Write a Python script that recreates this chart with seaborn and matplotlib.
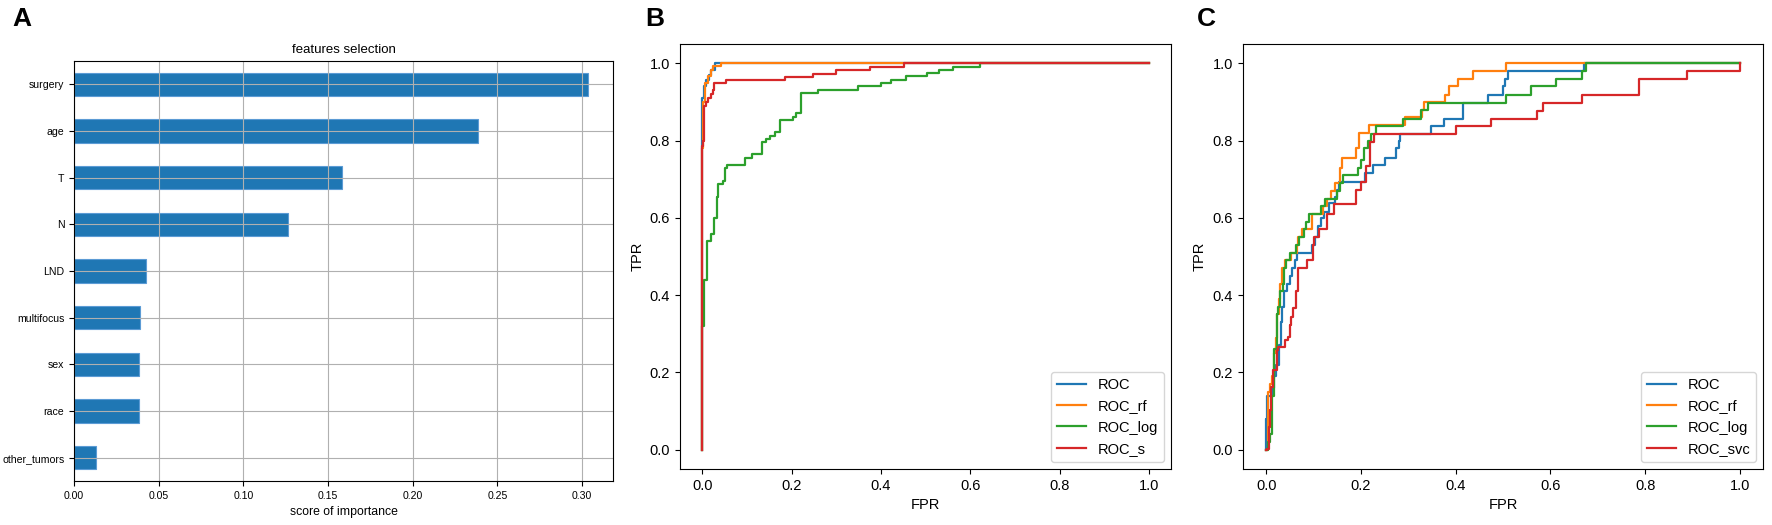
import numpy as np
import pandas as pd
import matplotlib
matplotlib.use("Agg")
import matplotlib.pyplot as plt
from matplotlib import font_manager as fm
import seaborn as sns

# ---------------- data ----------------
features = ["surgery", "age", "T", "N", "LND", "multifocus", "sex", "race", "other_tumors"]
importance = [0.3034, 0.2386, 0.158, 0.1266, 0.0423, 0.0389, 0.0385, 0.0385, 0.0129]

# Panel B ROC curves: (fpr where the curve jumps, tpr level after the jump)
b_roc_fpr = [0, 0, 0.003, 0.008, 0.015, 0.02, 0.028, 1.0]
b_roc_tpr = [0, 0.91, 0.94, 0.957, 0.97, 0.983, 1.0, 1.0]
b_rf_fpr = [0, 0, 0.002, 0.006, 0.012, 0.02, 0.025, 0.043, 1.0]
b_rf_tpr = [0, 0.78, 0.9, 0.95, 0.966, 0.983, 0.992, 1.0, 1.0]
b_log_fpr = [0, 0, 0.004, 0.01, 0.02, 0.026, 0.032, 0.036, 0.046, 0.052, 0.056, 0.095, 0.112,
             0.133, 0.142, 0.151, 0.162, 0.173, 0.204, 0.21, 0.221, 0.259, 0.348, 0.40, 0.423,
             0.456, 0.503, 0.53, 0.56, 0.622, 1.0]
b_log_tpr = [0, 0.319, 0.44, 0.54, 0.557, 0.60, 0.653, 0.688, 0.696, 0.728, 0.737, 0.754, 0.766,
             0.797, 0.805, 0.812, 0.823, 0.852, 0.862, 0.871, 0.923, 0.931, 0.94, 0.949, 0.957,
             0.966, 0.974, 0.983, 0.991, 1.0, 1.0]
b_s_fpr = [0, 0, 0.002, 0.004, 0.008, 0.012, 0.02, 0.024, 0.026, 0.054, 0.185, 0.248, 0.30,
           0.375, 0.452, 1.0]
b_s_tpr = [0, 0.785, 0.80, 0.89, 0.90, 0.91, 0.92, 0.93, 0.949, 0.957, 0.964, 0.973, 0.982,
           0.991, 1.0, 1.0]

# Panel C ROC curves
c_roc_fpr = [0, 0, 0.002, 0.012, 0.016, 0.02, 0.028, 0.031, 0.034, 0.038, 0.044, 0.05, 0.055,
             0.06, 0.066, 0.097, 0.104, 0.11, 0.115, 0.122, 0.132, 0.146, 0.149, 0.153, 0.208,
             0.226, 0.25, 0.274, 0.28, 0.283, 0.347, 0.375, 0.415, 0.468, 0.50, 0.505, 0.51,
             0.67, 1.0]
c_roc_tpr = [0, 0.08, 0.14, 0.16, 0.19, 0.22, 0.27, 0.33, 0.37, 0.41, 0.43, 0.45, 0.47,
             0.49, 0.51, 0.53, 0.55, 0.58, 0.60, 0.616, 0.638, 0.655, 0.672, 0.694, 0.716,
             0.737, 0.755, 0.78, 0.80, 0.816, 0.837, 0.857, 0.898, 0.918, 0.94, 0.96, 0.98,
             1.0, 1.0]
c_rf_fpr = [0, 0.004, 0.008, 0.012, 0.016, 0.02, 0.022, 0.026, 0.03, 0.034, 0.04, 0.052,
            0.064, 0.068, 0.076, 0.096, 0.12, 0.128, 0.136, 0.145, 0.155, 0.16, 0.19, 0.195,
            0.217, 0.293, 0.328, 0.333, 0.378, 0.385, 0.404, 0.436, 0.506, 1.0]
c_rf_tpr = [0, 0.15, 0.17, 0.19, 0.25, 0.29, 0.35, 0.39, 0.43, 0.47, 0.49, 0.51,
            0.53, 0.55, 0.57, 0.61, 0.63, 0.65, 0.67, 0.69, 0.73, 0.755, 0.78, 0.82,
            0.84, 0.86, 0.88, 0.90, 0.918, 0.94, 0.96, 0.98, 1.0, 1.0]
c_log_fpr = [0, 0.003, 0.008, 0.013, 0.017, 0.022, 0.025, 0.029, 0.036, 0.038, 0.042, 0.05,
             0.063, 0.07, 0.08, 0.084, 0.09, 0.115, 0.125, 0.15, 0.156, 0.162, 0.193, 0.2,
             0.206, 0.214, 0.222, 0.232, 0.288, 0.326, 0.342, 0.507, 0.559, 0.611, 0.667,
             0.675, 1.0]
c_log_tpr = [0, 0.02, 0.04, 0.14, 0.26, 0.35, 0.37, 0.41, 0.43, 0.47, 0.49, 0.51,
             0.53, 0.55, 0.57, 0.59, 0.61, 0.63, 0.65, 0.67, 0.69, 0.71, 0.73, 0.75,
             0.78, 0.80, 0.816, 0.837, 0.857, 0.878, 0.898, 0.918, 0.94, 0.96, 0.98,
             1.0, 1.0]
c_svc_fpr = [0, 0.001, 0.005, 0.008, 0.011, 0.015, 0.022, 0.025, 0.04, 0.046, 0.05, 0.053,
             0.057, 0.063, 0.068, 0.086, 0.098, 0.1, 0.112, 0.128, 0.144, 0.19, 0.2, 0.21,
             0.22, 0.228, 0.4, 0.475, 0.572, 0.585, 0.666, 0.787, 0.888, 1.0, 1.0]
c_svc_tpr = [0, 0.003, 0.059, 0.102, 0.162, 0.206, 0.257, 0.266, 0.283, 0.292, 0.322, 0.344,
             0.366, 0.41, 0.47, 0.49, 0.53, 0.55, 0.57, 0.61, 0.635, 0.673, 0.694, 0.735,
             0.796, 0.816, 0.837, 0.857, 0.877, 0.898, 0.918, 0.959, 0.98, 0.98, 1.0]

panel_b = [("ROC", b_roc_fpr, b_roc_tpr), ("ROC_rf", b_rf_fpr, b_rf_tpr),
           ("ROC_log", b_log_fpr, b_log_tpr), ("ROC_s", b_s_fpr, b_s_tpr)]
panel_c = [("ROC", c_roc_fpr, c_roc_tpr), ("ROC_rf", c_rf_fpr, c_rf_tpr),
           ("ROC_log", c_log_fpr, c_log_tpr), ("ROC_svc", c_svc_fpr, c_svc_tpr)]
colors = ["#1f77b4", "#ff7f0e", "#2ca02c", "#d62728"]


def font_available(name):
    try:
        fm.findfont(fm.FontProperties(family=name), fallback_to_default=False)
        return True
    except Exception:
        return False


if font_available("Liberation Sans Narrow"):
    fontA = ["Liberation Sans Narrow", "DejaVu Sans"]
    sA_tick, sA_title, sA_label = 9.5, 11, 10
else:
    fontA = ["Liberation Sans", "DejaVu Sans"]
    sA_tick, sA_title, sA_label = 7.6, 9.5, 8.8
fontBC = ["Liberation Sans", "DejaVu Sans"]

# ---------------- figure ----------------
fig = plt.figure(figsize=(17.72, 5.25), dpi=100)
axA = fig.add_axes([0.0418, 0.0838, 0.3044, 0.800])
axB = fig.add_axes([0.3837, 0.1067, 0.2774, 0.8095])
axC = fig.add_axes([0.7012, 0.1067, 0.2940, 0.8095])

# Panel A
dfA = pd.DataFrame({"feature": features, "importance": importance})
sns.barplot(data=dfA, x="importance", y="feature", orient="h", color="#1f77b4",
            saturation=1, width=0.5, edgecolor="#5b9bd5", linewidth=0.8, ax=axA)
axA.set_xlim(0, max(importance) * 1.05)
axA.grid(True, color="#b0b0b0", linewidth=0.8)
axA.set_axisbelow("line")
axA.set_title("features selection", fontsize=sA_title, family=fontA)
axA.set_xlabel("score of importance", fontsize=sA_label, family=fontA)
axA.set_ylabel("")
axA.set_xticks([0, 0.05, 0.10, 0.15, 0.20, 0.25, 0.30])
axA.set_xticklabels(["0.00", "0.05", "0.10", "0.15", "0.20", "0.25", "0.30"])
for t in axA.get_xticklabels() + axA.get_yticklabels():
    t.set_fontsize(sA_tick)
    t.set_family(fontA)


def roc_panel(ax, curves):
    for (name, fpr, tpr), col in zip(curves, colors):
        sns.lineplot(x=fpr, y=tpr, estimator=None, sort=False, drawstyle="steps-post",
                     color=col, linewidth=1.6, label=name, ax=ax)
    ax.set_xlim(-0.05, 1.05)
    ax.set_ylim(-0.05, 1.05)
    ax.set_xticks([0, 0.2, 0.4, 0.6, 0.8, 1.0])
    ax.set_yticks([0, 0.2, 0.4, 0.6, 0.8, 1.0])
    for t in ax.get_xticklabels() + ax.get_yticklabels():
        t.set_fontsize(10.5)
        t.set_family(fontBC)
    ax.set_xlabel("FPR", fontsize=10.5, family=fontBC)
    ax.set_ylabel("TPR", fontsize=10.5, family=fontBC)
    ax.legend(loc="lower right", prop={"family": fontBC, "size": 10.5})


roc_panel(axB, panel_b)
roc_panel(axC, panel_c)

for lab, xpos in [("A", 0.007), ("B", 0.364), ("C", 0.6755)]:
    fig.text(xpos, 0.987, lab, fontsize=19, fontweight="bold", va="top", ha="left",
             family=["Liberation Sans", "DejaVu Sans"])

fig.savefig("out.png", dpi=100)
